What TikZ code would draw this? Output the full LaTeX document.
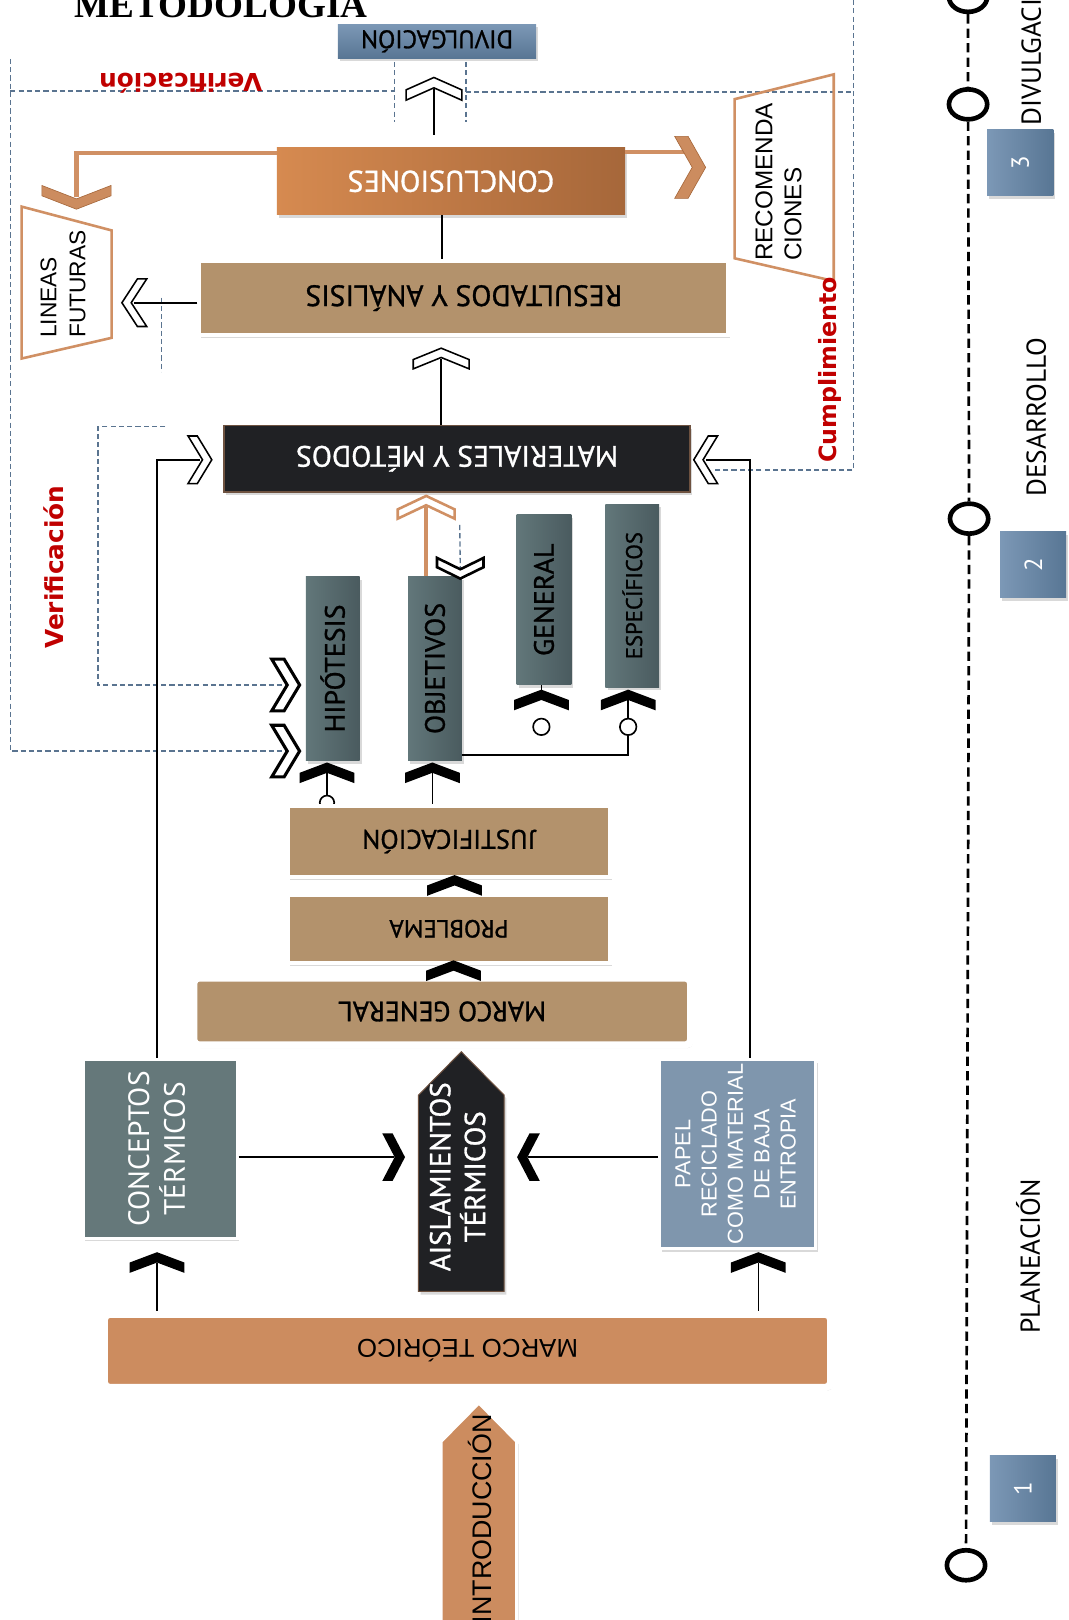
\documentclass[tikz,border=0pt]{standalone}
\usepackage{fontspec}
\setmainfont{PT Sans}[BoldFont={PT Sans}, BoldFeatures={FakeBold=1.0}]
\newfontfamily\arialf{Liberation Sans}
\newfontfamily\timesf{Liberation Serif}
\newfontfamily\heavyf{DejaVu Sans}
\usepackage{graphicx}
\usepackage{tikz}
\usetikzlibrary{shadows, shapes.geometric}
\definecolor{tanC}{RGB}{179,146,108}
\definecolor{orC}{RGB}{204,140,95}
\definecolor{orL}{RGB}{214,138,80}
\definecolor{orD}{RGB}{166,103,58}
\definecolor{lineOr}{RGB}{208,144,100}
\definecolor{slL}{RGB}{98,119,122}
\definecolor{slD}{RGB}{74,91,95}
\definecolor{slate}{RGB}{101,120,122}
\definecolor{steel}{RGB}{127,150,173}
\definecolor{blL}{RGB}{124,152,182}
\definecolor{blD}{RGB}{88,118,148}
\definecolor{ink}{RGB}{32,33,36}
\definecolor{inkB}{RGB}{110,82,64}
\definecolor{dashC}{RGB}{90,116,144}
\definecolor{redC}{RGB}{192,0,0}
\newcommand{\flipped}[1]{\rotatebox{180}{#1}}
\newcommand{\upward}[1]{\rotatebox{90}{#1}}
\tikzset{
  pics/chev/.style n args={3}{code={
    \path[pic actions] (0,-#2/2) -- (#1/2,#2/2-#3) -- (#1/2,#2/2) -- (0,-#2/2+#3)
      -- (-#1/2,#2/2) -- (-#1/2,#2/2-#3) -- cycle;
  }}
}

\begin{document}
\begin{tikzpicture}[x=1pt, y=-1pt,
    shd/.style = {drop shadow={shadow xshift=2pt, shadow yshift=-3pt, opacity=.3}},
    tanbox/.style = {fill=tanC, draw=white, line width=4pt, shd, inner sep=0pt,
        font=\bfseries\fontsize{26}{31}\selectfont},
    colbox/.style = {left color=slL, right color=slD, shd, inner sep=0pt,
        font=\bfseries\fontsize{27}{32}\selectfont},
    inkbox/.style = {fill=ink, draw=inkB, line width=1.5pt, shd, text=white,
        inner sep=0pt, font=\bfseries\fontsize{28.5}{33}\selectfont},
    conn/.style = {draw, line width=1.6pt},
    orline/.style = {draw=lineOr, line width=4pt},
    dashline/.style = {draw=dashC, line width=1.3pt, dash pattern=on 5pt off 3pt},
    chevfill/.style = {fill=black},
    chevline/.style = {draw=black, fill=white, line width=1.5pt},
    chevor/.style = {fill=orC, draw=orD, line width=.6pt},
    trap/.style = {draw=lineOr, line width=2.5pt, line join=miter},
    trtext/.style = {font=\arialf\fontsize{22}{28}\selectfont, inner sep=0pt},
    redlbl/.style = {font=\heavyf\bfseries\fontsize{24}{27}\selectfont, text=redC,
        inner sep=0pt},
    tcirc/.style = {ellipse, draw, line width=4.5pt, fill=white, minimum width=37,
        minimum height=29, inner sep=0pt},
    tline/.style = {line width=2.6pt, dash pattern=on 9pt off 5pt},
    numbox/.style = {left color=blL, right color=blD, minimum size=64, shd,
        text=white, inner sep=0pt, font=\fontsize{24}{28}\selectfont},
    phase/.style = {rotate=90, inner sep=0pt, font=\fontsize{26.5}{30}\selectfont}
  ]
  \useasboundingbox (0,0) rectangle (1034,1568);

  \coordinate (spine) at (428,0);
  \coordinate (lnL) at (152,0);
  \coordinate (lnR) at (726,0);
  \coordinate (bus) at (0,731);
  \coordinate (cvA) at (420,86);
  \coordinate (cvB) at (427,347);
  \coordinate (cvC) at (130,293);
  \coordinate (cvD) at (74,191);
  \coordinate (cvE) at (668,162);
  \coordinate (cvF) at (193.5,445);
  \coordinate (cvG) at (683,445);
  \coordinate (cvH) at (412.5,491);
  \coordinate (cvI) at (445.5,550);
  \coordinate (cvJ) at (524,677.5);
  \coordinate (cvK) at (608,677.5);
  \coordinate (cvL) at (316.5,748);
  \coordinate (cvM) at (418.5,748);
  \coordinate (cvN) at (440,857);
  \coordinate (cvO) at (439,939.5);
  \coordinate (cvP) at (276.5,663);
  \coordinate (cvQ) at (276.5,727);
  \coordinate (cvR) at (381,1120);
  \coordinate (cvS) at (511.5,1120);
  \coordinate (cvT) at (152,1222);
  \coordinate (cvU) at (734,1222);
  \coordinate (hcirc) at (316.5,777);

  % verificacion
  \draw[dashline] (10,57) -- (10,727) -- (cvQ);
  \draw[dashline] (160,413) -- (95,413) -- (95,663) -- (cvP);
  \draw[dashline] (10,88) -- (382,88);
  \draw[dashline] (382,60) -- (382,118);
  \draw[dashline] (451,60) -- (451,118);
  \draw[dashline] (451,89) -- (826,89);
  \draw[dashline] (826,0) -- (826,455) -- (690,455);
  \draw[dashline] (156,288) -- (156,360);
  \draw[dashline] (445,508) -- (cvI);

  \draw[conn] (cvL) -- (hcirc);
  \draw[conn, fill=white] (hcirc) circle (7pt);

  \node[anchor=base west, inner sep=0pt, font=\timesf\bfseries\fontsize{36}{40}\selectfont]
    (titulo) at (72,17) {METODOLOGÍA};

  \node[top color=blL, bottom color=blD, minimum width=192, minimum height=33, shd,
    inner sep=0pt, font=\bfseries\fontsize{24.5}{28}\selectfont] (divul) at (423,40)
    {\flipped{DIVULGACIÓN}};
  \node[left color=orL, right color=orD, minimum width=337, minimum height=65, shd,
    text=white, inner sep=0pt, font=\bfseries\fontsize{29}{34}\selectfont] (concl) at (436.5,175.5)
    {\flipped{CONCLUSIONES}};
  \node[tanbox, minimum width=512, minimum height=71, font=\bfseries\fontsize{28.5}{33}\selectfont]
    (resul) at (449,288.5) {\flipped{RESULTADOS Y ANÁLISIS}};
  \node[inkbox, minimum width=451, minimum height=64] (mat) at (442.5,444)
    {\flipped{MATERIALES Y MÉTODOS}};

  \node[colbox, minimum width=52, minimum height=178] (hipo) at (322,647) {\upward{HIPÓTESIS}};
  \node[colbox, minimum width=52, minimum height=178] (obje) at (421,647) {\upward{OBJETIVOS}};
  \node[colbox, minimum width=53, minimum height=165] (gene) at (526.5,580.5) {\upward{GENERAL}};
  \node[colbox, minimum width=52, minimum height=177, font=\bfseries\fontsize{22}{26}\selectfont]
    (espe) at (612,576.5) {\upward{ESPECÍFICOS}};

  \node[tanbox, minimum width=311, minimum height=69] (just) at (434.5,814.5) {\flipped{JUSTIFICACIÓN}};
  \node[tanbox, minimum width=311, minimum height=66, font=\bfseries\fontsize{24}{28}\selectfont]
    (prob) at (434.5,899) {\flipped{PROBLEMA}};
  \node[tanbox, line width=7pt, rounded corners=5pt, minimum width=481, minimum height=65,
    font=\bfseries\fontsize{27}{31}\selectfont] (mgen) at (428,979) {\flipped{MARCO GENERAL}};

  \node[fill=slate, draw=white, line width=3pt, shd, minimum width=149, minimum height=173,
    text=white, inner sep=0pt, font=\fontsize{28.5}{33}\selectfont] (conc) at (155,1112)
    {\upward{\begin{tabular}{@{}c@{}}CONCEPTOS\\TÉRMICOS\end{tabular}}};
  \filldraw[fill=ink, draw=inkB, line width=1pt, shd]
    (405,1250) -- (405,1060) -- (446.5,1018) -- (488,1060) -- (488,1250) -- cycle;
  \node[text=white, inner sep=0pt, font=\bfseries\fontsize{28}{31}\selectfont] (aisl) at (446.5,1139)
    {\upward{\begin{tabular}{@{}c@{}}AISLAMIENTOS\\TÉRMICOS\end{tabular}}};
  \node[fill=steel, draw=white, line width=3pt, shd, minimum width=151, minimum height=183,
    text=white, inner sep=0pt, font=\arialf\fontsize{21}{25.5}\selectfont] (papel) at (714,1117)
    {\upward{\begin{tabular}{@{}c@{}}PAPEL\\RECICLADO\\COMO MATERIAL\\DE BAJA\\ENTROPIA\end{tabular}}};

  \node[fill=orC, draw=white, line width=7pt, rounded corners=5pt, shd, minimum width=703,
    minimum height=71, inner sep=0pt, font=\arialf\fontsize{25}{30}\selectfont] (mteo)
    at (452.5,1307.5) {\flipped{MARCO TEÓRICO}};
  \filldraw[fill=orC, draw=white, line width=3pt, shd]
    (427,1580) -- (427,1395) -- (463.5,1358) -- (500,1395) -- (500,1580) -- cycle;
  \node[inner sep=0pt, font=\arialf\fontsize{26}{30}\selectfont] (intro) at (465,1470)
    {\upward{INTRODUCCIÓN}};

  \draw[trap] (21,200) -- (108,223) -- (108,327) -- (21,347) -- cycle;
  \node[trtext] (lineas) at (63,275)
    {\upward{\begin{tabular}{@{}l@{}}LINEAS\\FUTURAS\end{tabular}}};
  \draw[trap] (711,96) -- (807,72) -- (807,272) -- (711,250) -- cycle;
  \node[trtext, font=\arialf\fontsize{23.5}{28}\selectfont] (recom) at (756,176)
    {\upward{\begin{tabular}{@{}l@{}}RECOMENDA\\CIONES\end{tabular}}};

  \node[redlbl] (verA) at (175,81) {\flipped{Verificación}};
  \node[redlbl] (verB) at (52,549) {\upward{Verificación}};
  \node[redlbl, font=\heavyf\bfseries\fontsize{23}{26}\selectfont] (cump) at (803,358)
    {\upward{Cumplimiento}};

  % conectores
  \draw[conn, shorten >=12pt] (cvA) -- (concl.north -| cvA);
  \draw[conn] (concl.south -| spine) -- (resul.north -| spine);
  \draw[conn] (cvB) -- (mat.north -| cvB);
  \draw[conn] (resul.west |- cvC) -- (cvC);
  \draw[orline] ([yshift=-5pt]concl.north west) -| (cvD);
  \draw[orline] ([yshift=-4pt]concl.north east) -- ([yshift=-4pt]concl.north east -| cvE);
  \draw[conn] (conc.north -| lnL) |- (cvF);
  \draw[conn] (papel.north -| lnR) |- (cvG);
  \draw[orline] (obje.north -| cvH) -- (cvH);
  \draw[conn] (obje.east |- bus) -| (cvK);
  \draw[conn] (gene.south -| cvJ |- bus) -- (cvJ);
  \foreach \c in {cvJ, cvK}
    \draw[conn, fill=white] ([yshift=-26pt]\c) circle (8pt);
  \draw[conn] (just.north -| cvM) -- (cvM);
  \draw[conn] (conc.east |- cvR) -- (cvR);
  \draw[conn] (papel.west |- cvS) -- (cvS);
  \draw[conn] (mteo.north -| cvT) -- (cvT);
  \draw[conn] (mteo.north -| cvU) -- (cvU);

  % flechas
  \pic[chevline] at (cvA) {chev={54}{22}{10}};
  \pic[chevline] at (cvB) {chev={54}{20}{9}};
  \pic[chevline, rotate=90] at (cvC) {chev={46}{24}{9}};
  \pic[chevor, rotate=180] at (cvD) {chev={67}{23}{10}};
  \pic[chevor, rotate=-90] at (cvE) {chev={60}{30}{13}};
  \pic[chevline, rotate=-90] at (cvF) {chev={46}{23}{9}};
  \pic[chevline, rotate=90] at (cvG) {chev={46}{23}{9}};
  \pic[chevline, draw=lineOr, line width=2.5pt] at (cvH) {chev={55}{22}{9}};
  \pic[chevline, line width=2.5pt, rotate=180] at (cvI) {chev={45}{20}{9}};
  \foreach \c in {cvJ, cvK, cvL, cvM, cvN, cvO, cvT, cvU}
    \pic[chevfill] at (\c) {chev={53}{20}{10}};
  \foreach \c in {cvP, cvQ}
    \pic[chevline, line width=3pt, rotate=-90] at (\c) {chev={50}{27}{12}};
  \pic[chevfill, rotate=-90] at (cvR) {chev={46}{22}{10}};
  \pic[chevfill, rotate=90] at (cvS) {chev={46}{22}{10}};

  % linea de tiempo
  \node[tcirc] (tA) at (937,-3) {};
  \node[tcirc] (tB) at (937,101) {};
  \node[tcirc] (tC) at (938,502) {};
  \node[tcirc] (tD) at (935,1515) {};
  \draw[tline] (tA) -- (tB) -- (tC) -- (tD);
  \node[numbox] (n3) at (987.5,157.5) {\upward{3}};
  \node[numbox] (n2) at (1000,546.5) {\upward{2}};
  \node[numbox] (n1) at (990,1441) {\upward{1}};
  \node[phase, anchor=west] (pDiv) at (996,122) {DIVULGACIÓN};
  \node[phase] (pDes) at (1003,404) {DESARROLLO};
  \node[phase] (pPla) at (995,1216) {PLANEACIÓN};
\end{tikzpicture}
\end{document}
